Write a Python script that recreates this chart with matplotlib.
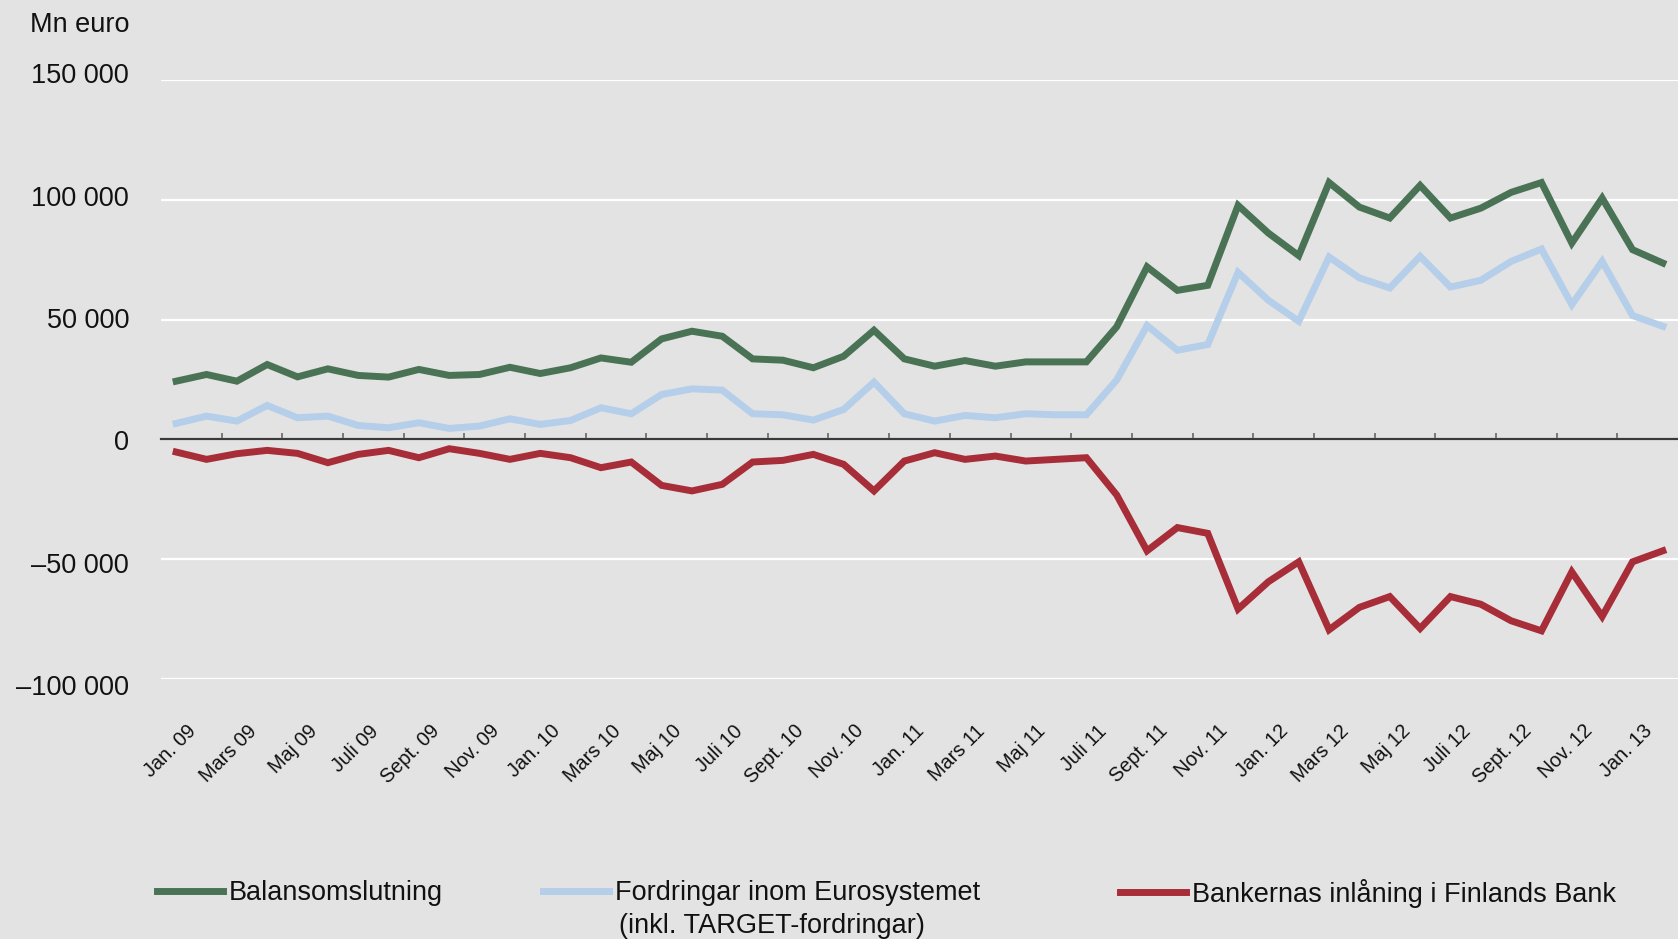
import matplotlib
matplotlib.use("Agg")
import matplotlib.pyplot as plt
from matplotlib.ticker import FuncFormatter, FixedLocator
from matplotlib.transforms import ScaledTranslation
import numpy as np

plt.rcParams['font.family'] = ['Liberation Sans', 'DejaVu Sans']

# ---- data (Mn euro), monthly Jan 2009 .. Feb 2013 ----
months = ["Jan. 09", "Feb. 09", "Mars 09", "Apr. 09", "Maj 09", "Juni 09", "Juli 09", "Aug. 09",
          "Sept. 09", "Okt. 09", "Nov. 09", "Dec. 09",
          "Jan. 10", "Feb. 10", "Mars 10", "Apr. 10", "Maj 10", "Juni 10", "Juli 10", "Aug. 10",
          "Sept. 10", "Okt. 10", "Nov. 10", "Dec. 10",
          "Jan. 11", "Feb. 11", "Mars 11", "Apr. 11", "Maj 11", "Juni 11", "Juli 11", "Aug. 11",
          "Sept. 11", "Okt. 11", "Nov. 11", "Dec. 11",
          "Jan. 12", "Feb. 12", "Mars 12", "Apr. 12", "Maj 12", "Juni 12", "Juli 12", "Aug. 12",
          "Sept. 12", "Okt. 12", "Nov. 12", "Dec. 12",
          "Jan. 13", "Feb. 13"]

balansomslutning = [24300, 27100, 24300, 31250, 26100, 29450, 26700, 26000, 29200, 26700,
                    27100, 30100, 27500, 29900, 34000, 32200, 41950, 45150, 43050, 33600,
                    33050, 29900, 34700, 45550, 33600, 30550, 32900, 30550, 32350, 32350,
                    32350, 47000, 72000, 62200, 64300, 97650, 86100, 76700, 107200, 96950,
                    92400, 106000, 92400, 96500, 103100, 107200, 81950, 100700, 79200, 73600]

fordringar = [6670, 9720, 7640, 14170, 9030, 9720, 5830, 4860, 6950, 4580,
              5560, 8610, 6250, 7900, 13200, 10700, 18750, 21100, 20560, 10700,
              10280, 8060, 12500, 23900, 10700, 7640, 10000, 9030, 10700, 10280,
              10280, 24800, 47500, 37200, 39600, 69700, 58060, 49300, 76100, 67400,
              63200, 76400, 63600, 66400, 74300, 79450, 56250, 74300, 51700, 47200]

inlaning = [-5280, -8330, -5970, -4580, -5830, -9720, -6250, -4580, -7640, -3890,
            -5830, -8330, -5830, -7640, -11800, -9440, -19200, -21500, -18750, -9440,
            -8750, -6250, -10400, -21500, -9030, -5560, -8330, -6950, -9030, -8330,
            -7640, -23200, -46500, -36800, -39200, -70800, -59400, -51100, -79450, -70100,
            -65600, -78900, -65600, -68800, -75700, -79900, -55300, -73900, -51100, -46500]

series_labels = ["Balansomslutning", "Fordringar inom Eurosystemet",
                 "Bankernas inlåning i Finlands Bank"]
series_note = "(inkl. TARGET-fordringar)"
y_ticks = [-100000, -50000, 0, 50000, 100000, 150000]
y_unit = "Mn euro"

# ---- style ----
W, H, DPI = 1678, 939, 100
BG = "#e3e3e3"
C_GREEN = "#4a7356"
C_BLUE = "#b5cee9"
C_RED = "#a72d38"
FS = 19.5

fig = plt.figure(figsize=(W / DPI, H / DPI), dpi=DPI, facecolor=BG)
ax_left, ax_right, ax_top, ax_bot = 161, 1678, 80, 679
ax = fig.add_axes([ax_left / W, 1 - ax_bot / H, (ax_right - ax_left) / W, (ax_bot - ax_top) / H])
ax.set_facecolor(BG)

x = np.arange(len(months))
lw = 5.0
l1, = ax.plot(x, balansomslutning, color=C_GREEN, lw=lw, solid_joinstyle='miter', zorder=4)
l2, = ax.plot(x, fordringar, color=C_BLUE, lw=lw, solid_joinstyle='miter', zorder=3)
l3, = ax.plot(x, inlaning, color=C_RED, lw=lw, solid_joinstyle='miter', zorder=4)

ax.set_xlim(-0.5, len(months) - 0.5)
ax.set_ylim(y_ticks[0], y_ticks[-1])

# y axis
ax.set_yticks(y_ticks)
ax.yaxis.set_major_formatter(FuncFormatter(
    lambda v, p: f"{v:,.0f}".replace(",", " ").replace("-", "–")))
ax.tick_params(axis='y', length=0, pad=23, labelsize=FS, labelcolor="#111111")
fig.canvas.draw()
for v, lab in zip(y_ticks, ax.get_yticklabels()):
    up = 2.6 * v / 50000 - 1.0
    lab.set_transform(lab.get_transform() + ScaledTranslation(0, up / DPI, fig.dpi_scale_trans))
ax.grid(axis='y', color='white', lw=1.6, zorder=1)
ax.set_axisbelow(True)

for s in ['left', 'right', 'top']:
    ax.spines[s].set_visible(False)
ax.spines['bottom'].set_position(('data', 0))
ax.spines['bottom'].set_color('#3a3a3a')
ax.spines['bottom'].set_linewidth(1.6)
ax.spines['bottom'].set_zorder(5)

# x axis: labels every 2nd month, tick marks between categories
label_idx = x[::2][:25]
ax.xaxis.set_major_locator(FixedLocator(label_idx))
ax.set_xticklabels([months[i] for i in label_idx])
ax.xaxis.set_minor_locator(FixedLocator(np.arange(1.5, len(months) - 1, 2)))
ax.tick_params(axis='x', which='major', length=0, pad=203, labelsize=14.3,
               labelrotation=45, labelcolor="#111111")
ax.tick_params(axis='x', which='minor', direction='in', length=4.5, width=1.2, color='#666666')
shift = ScaledTranslation(24 / DPI, 0, fig.dpi_scale_trans)
for lab in ax.get_xticklabels():
    lab.set_ha('right')
    lab.set_va('top')
    lab.set_transform(lab.get_transform() + shift)

# unit label
fig.text(30 / W, 1 - 25 / H, y_unit, fontsize=FS, va='center', ha='left', color="#111111")

# legend (three separate entries)
leg_pos = [(157, 893), (543, 893), (1120, 893)]
for line, lab, (lx, ly) in zip([l1, l2, l3], series_labels, leg_pos):
    lg = fig.legend(handles=[line], labels=[lab], loc='center left',
                    bbox_to_anchor=(lx / W, 1 - ly / H), frameon=False,
                    borderpad=0, borderaxespad=0, handlelength=2.45,
                    handletextpad=0.2, fontsize=FS)
    for t in lg.get_texts():
        t.set_color("#111111")
fig.text(619 / W, 1 - 926 / H, series_note, fontsize=FS, va='center', ha='left', color="#111111")

fig.savefig("out.png", dpi=DPI, facecolor=BG)
